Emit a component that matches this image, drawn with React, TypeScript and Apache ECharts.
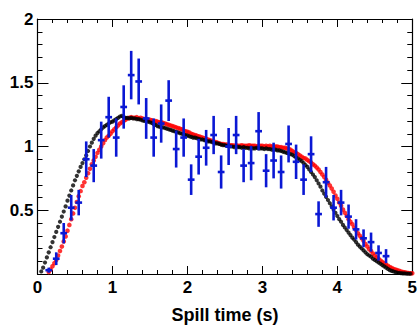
import React, { useEffect, useRef } from "react";
import * as echarts from "echarts";

// ---- data ----
const xTickLabels = ["0", "1", "2", "3", "4", "5"];
const yTickLabels = ["", "0.5", "1", "1.5", "2"];
const xTitle = "Spill time (s)";

// fine-binned curves (bin centres every 0.025 s)
const curveStep = 0.025;
const blackStart = 0.05;
const blackY = [
  0.02, 0.05, 0.09, 0.13, 0.17, 0.21, 0.25, 0.29, 0.33, 0.37,
  0.41, 0.45, 0.49, 0.53, 0.575, 0.615, 0.655, 0.695, 0.735, 0.77,
  0.805, 0.84, 0.87, 0.9, 0.93, 0.965, 1.0, 1.03, 1.06, 1.085,
  1.105, 1.12, 1.135, 1.15, 1.16, 1.17, 1.18, 1.19, 1.195, 1.205,
  1.215, 1.225, 1.235, 1.24, 1.23, 1.225, 1.225, 1.22, 1.225, 1.22,
  1.22, 1.215, 1.215, 1.21, 1.205, 1.2, 1.2, 1.195, 1.19, 1.185,
  1.175, 1.17, 1.16, 1.155, 1.15, 1.15, 1.145, 1.14, 1.135, 1.13,
  1.125, 1.12, 1.115, 1.11, 1.105, 1.1, 1.095, 1.09, 1.085, 1.08,
  1.075, 1.07, 1.07, 1.065, 1.06, 1.055, 1.055, 1.05, 1.045, 1.04,
  1.04, 1.035, 1.03, 1.025, 1.025, 1.02, 1.015, 1.01, 1.01, 1.005,
  1.005, 1.0, 1.0, 0.995, 1.0, 0.995, 0.995, 0.99, 0.995, 0.99,
  0.99, 0.985, 0.99, 0.985, 0.985, 0.99, 0.985, 0.985, 0.985, 0.98,
  0.985, 0.98, 0.98, 0.975, 0.975, 0.975, 0.97, 0.97, 0.965, 0.96,
  0.955, 0.95, 0.945, 0.94, 0.935, 0.925, 0.915, 0.905, 0.895, 0.885,
  0.87, 0.855, 0.84, 0.82, 0.8, 0.78, 0.76, 0.735, 0.71, 0.685,
  0.655, 0.63, 0.605, 0.58, 0.555, 0.53, 0.505, 0.48, 0.455, 0.43,
  0.41, 0.385, 0.365, 0.345, 0.325, 0.305, 0.285, 0.27, 0.25, 0.23,
  0.215, 0.2, 0.185, 0.17, 0.155, 0.145, 0.135, 0.12, 0.11, 0.1,
  0.09, 0.08, 0.07, 0.06, 0.05, 0.04, 0.03, 0.025, 0.02, 0.015,
  0.01, 0.008, 0.006, 0.005, 0.004, 0.003, 0.002, 0.002,
];
const redStart = 0.15;
const redY = [
  0.015, 0.035, 0.06, 0.085, 0.11, 0.145, 0.18, 0.215, 0.255, 0.295,
  0.34, 0.385, 0.43, 0.475, 0.52, 0.565, 0.61, 0.65, 0.69, 0.72,
  0.755, 0.79, 0.825, 0.86, 0.89, 0.92, 0.95, 0.975, 1.0, 1.025,
  1.05, 1.07, 1.085, 1.1, 1.12, 1.135, 1.15, 1.165, 1.18, 1.19,
  1.2, 1.21, 1.22, 1.225, 1.23, 1.225, 1.225, 1.23, 1.22, 1.225,
  1.22, 1.215, 1.215, 1.21, 1.21, 1.205, 1.2, 1.2, 1.195, 1.19,
  1.19, 1.185, 1.18, 1.175, 1.17, 1.165, 1.16, 1.155, 1.15, 1.145,
  1.14, 1.135, 1.125, 1.12, 1.115, 1.11, 1.1, 1.095, 1.09, 1.085,
  1.08, 1.075, 1.07, 1.065, 1.06, 1.055, 1.05, 1.045, 1.04, 1.035,
  1.03, 1.025, 1.02, 1.02, 1.015, 1.015, 1.01, 1.01, 1.01, 1.005,
  1.01, 1.005, 1.005, 1.01, 1.005, 1.005, 1.005, 1.01, 1.005, 1.005,
  1.005, 1.0, 1.005, 1.005, 1.005, 1.0, 1.005, 1.0, 1.005, 1.0,
  1.0, 1.0, 1.0, 0.995, 0.995, 0.99, 0.99, 0.985, 0.98, 0.975,
  0.965, 0.955, 0.95, 0.94, 0.93, 0.92, 0.91, 0.905, 0.895, 0.885,
  0.875, 0.86, 0.85, 0.835, 0.82, 0.8, 0.78, 0.76, 0.74, 0.715,
  0.695, 0.67, 0.645, 0.615, 0.59, 0.56, 0.535, 0.505, 0.48, 0.455,
  0.43, 0.41, 0.39, 0.365, 0.345, 0.32, 0.3, 0.28, 0.26, 0.235,
  0.215, 0.195, 0.18, 0.16, 0.145, 0.13, 0.12, 0.105, 0.095, 0.085,
  0.075, 0.065, 0.055, 0.048, 0.04, 0.035, 0.03, 0.025, 0.02, 0.016,
  0.013, 0.01, 0.008, 0.006, 0.005,
];

// data points with errors (bin centres every 0.1 s)
const blueStart = 0.15;
const blueStep = 0.1;
const blueY = [
  0.03, 0.12, 0.32, 0.52, 0.56, 0.9, 0.85, 1.05, 1.23, 1.07,
  1.31, 1.56, 1.51, 1.22, 1.07, 1.18, 1.36, 0.98, 1.07, 0.74,
  0.92, 0.99, 1.09, 0.8, 1.0, 1.09, 0.85, 0.87, 1.12, 0.81,
  0.89, 0.8, 1.02, 0.88, 0.74, 0.94, 0.47, 0.72, 0.52, 0.56,
  0.45, 0.35, 0.28, 0.25, 0.165, 0.14,
];
const blueErr = [
  0.02, 0.05, 0.08, 0.1, 0.1, 0.14, 0.13, 0.145, 0.16, 0.15,
  0.17, 0.19, 0.18, 0.16, 0.15, 0.15, 0.16, 0.145, 0.15, 0.12,
  0.14, 0.14, 0.15, 0.13, 0.145, 0.15, 0.13, 0.135, 0.15, 0.13,
  0.14, 0.13, 0.145, 0.135, 0.12, 0.14, 0.1, 0.12, 0.1, 0.1,
  0.095, 0.08, 0.07, 0.075, 0.06, 0.055,
];

const FONT = "'Liberation Sans', Arial, Helvetica, sans-serif";

export default function App() {
  const ref = useRef<HTMLDivElement>(null);
  useEffect(() => {
    if (!ref.current) return;
    const chart = echarts.init(ref.current, null, { renderer: "svg" });

    const blackData = blackY.map((y, i) => [+(blackStart + i * curveStep).toFixed(3), y]);
    const redData = redY.map((y, i) => [+(redStart + i * curveStep).toFixed(3), y]);
    const blueData = blueY.map((y, i) => [+(blueStart + i * blueStep).toFixed(3), y, blueErr[i]]);
    const halfBin = 0.045;
    const blue = "#0a18d4";

    const baseX = {
      type: "value" as const,
      min: 0,
      max: 5,
      interval: 1,
      splitLine: { show: false },
      axisLine: { show: true, onZero: false, lineStyle: { color: "#000", width: 1.2 } },
      axisTick: { show: true, inside: true, length: 8, lineStyle: { color: "#000" } },
      minorTick: { show: true, splitNumber: 5, length: 4, lineStyle: { color: "#000" } },
    };
    const baseY = {
      type: "value" as const,
      min: 0,
      max: 2,
      interval: 0.5,
      splitLine: { show: false },
      axisLine: { show: true, onZero: false, lineStyle: { color: "#000", width: 1.2 } },
      axisTick: { show: true, inside: true, length: 11, lineStyle: { color: "#000" } },
      minorTick: { show: true, splitNumber: 5, length: 5, lineStyle: { color: "#000" } },
    };

    chart.setOption({
      animation: false,
      backgroundColor: "#fff",
      grid: { left: 37.5, right: 2.5, top: 19, bottom: 47, containLabel: false },
      xAxis: [
        {
          ...baseX,
          position: "bottom",
          name: xTitle,
          nameLocation: "middle",
          nameGap: 32,
          nameTextStyle: { fontFamily: FONT, fontWeight: "bold", fontSize: 18, color: "#000" },
          axisLabel: {
            show: true,
            margin: 5,
            fontFamily: FONT,
            fontWeight: "bold",
            fontSize: 17,
            color: "#000",
            formatter: (v: number) => xTickLabels[Math.round(v)] ?? "",
          },
        },
        { ...baseX, position: "top", axisLabel: { show: false } },
      ],
      yAxis: [
        {
          ...baseY,
          position: "left",
          axisLabel: {
            show: true,
            margin: 4,
            fontFamily: FONT,
            fontWeight: "bold",
            fontSize: 17,
            color: "#000",
            formatter: (v: number) => yTickLabels[Math.round(v * 2)] ?? "",
          },
        },
        { ...baseY, position: "right", axisLabel: { show: false } },
      ],
      series: [
        {
          type: "scatter",
          name: "red",
          data: redData,
          symbol: "circle",
          symbolSize: 4.6,
          itemStyle: { color: "#ff0000" },
          z: 2,
        },
        {
          type: "scatter",
          name: "black",
          data: blackData,
          symbol: "circle",
          symbolSize: 4.2,
          itemStyle: { color: "#000000" },
          z: 3,
        },
        {
          type: "custom",
          name: "blue",
          data: blueData,
          z: 4,
          renderItem: (_params: any, api: any) => {
            const x = api.value(0);
            const y = api.value(1);
            const e = api.value(2);
            const top = api.coord([x, y + e]);
            const bot = api.coord([x, Math.max(y - e, 0)]);
            const l = api.coord([x - halfBin, y]);
            const r = api.coord([x + halfBin, y]);
            return {
              type: "group",
              children: [
                {
                  type: "line",
                  shape: { x1: top[0], y1: top[1], x2: bot[0], y2: bot[1] },
                  style: { stroke: blue, lineWidth: 2.6 },
                },
                {
                  type: "line",
                  shape: { x1: l[0], y1: l[1], x2: r[0], y2: r[1] },
                  style: { stroke: blue, lineWidth: 2.6 },
                },
              ],
            };
          },
        },
      ],
    });
    return () => chart.dispose();
  }, []);
  return (
    <div
      ref={ref}
      style={{ position: "absolute", left: 0, top: 0, width: 420, height: 329, background: "#fff" }}
    />
  );
}
